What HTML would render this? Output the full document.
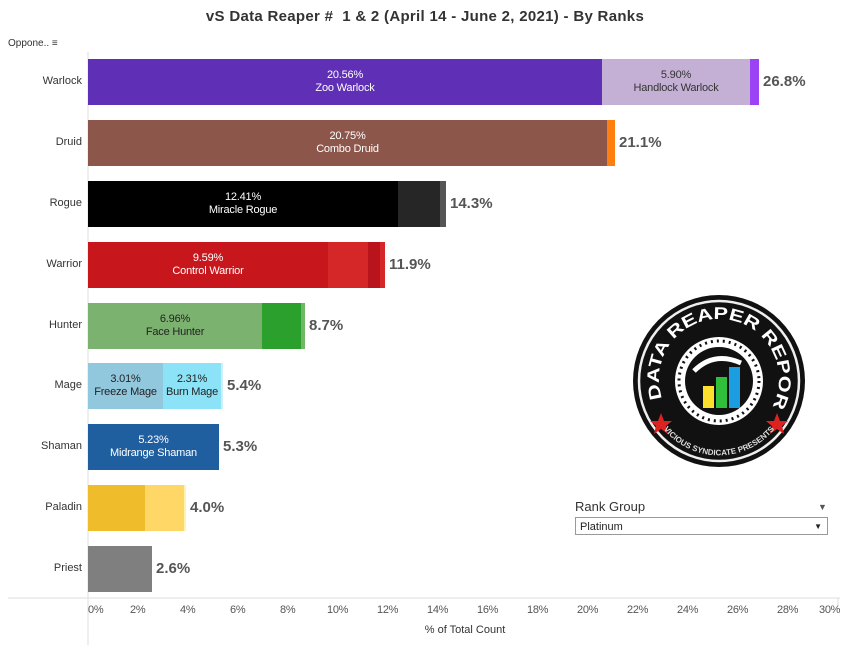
<!DOCTYPE html>
<html><head><style>
body{margin:0;width:850px;height:645px;background:#fff;font-family:"Liberation Sans",Arial,sans-serif;position:relative;overflow:hidden}
.a{position:absolute}
.t{left:0;width:850px;top:8px;text-align:center;font-size:15px;font-weight:bold;color:#333;letter-spacing:.3px}
.lbl{left:0;width:82px;text-align:right;font-size:11px;color:#333}
.bar{position:absolute;height:46px}
.in{color:#fff;font-size:11px;text-align:center;line-height:13px;display:flex;align-items:center;justify-content:center;flex-direction:column;letter-spacing:-.2px}
.tot{font-size:15px;font-weight:bold;color:#555}
.tk{font-size:11px;color:#555;top:604px;letter-spacing:-.3px}
</style></head><body>
<div class="a t">vS Data Reaper #&nbsp; 1 &amp; 2 (April 14 - June 2, 2021) - By Ranks</div>
<div class="a" style="left:8px;top:38px;font-size:10px;color:#333">Oppone.. <span style="font-weight:bold">&#8801;</span></div>
<svg class="a" style="left:0;top:0" width="850" height="645">
<line x1="88" y1="52" x2="88" y2="645" stroke="#ddd"/>
<line x1="8" y1="598" x2="840" y2="598" stroke="#ddd"/>
<line x1="838" y1="598" x2="838" y2="606" stroke="#ddd"/>
<rect x="88" y="59" width="514" height="46" fill="#5f2fb5"/>
<rect x="602" y="59" width="148" height="46" fill="#c5b0d5"/>
<rect x="750" y="59" width="9" height="46" fill="#9c42f5"/>
<rect x="88" y="120" width="519" height="46" fill="#8c564b"/>
<rect x="607" y="120" width="8" height="46" fill="#ff7f0e"/>
<rect x="88" y="181" width="310" height="46" fill="#000"/>
<rect x="398" y="181" width="42" height="46" fill="#262626"/>
<rect x="440" y="181" width="6" height="46" fill="#555"/>
<rect x="88" y="242" width="240" height="46" fill="#c8161d"/>
<rect x="328" y="242" width="40" height="46" fill="#d62728"/>
<rect x="368" y="242" width="12" height="46" fill="#b9131b"/>
<rect x="380" y="242" width="5" height="46" fill="#d62728"/>
<rect x="88" y="303" width="174" height="46" fill="#7cb26f"/>
<rect x="262" y="303" width="39" height="46" fill="#2ca02c"/>
<rect x="301" y="303" width="4" height="46" fill="#6fb865"/>
<rect x="88" y="363" width="75" height="46" fill="#92c8de"/>
<rect x="163" y="363" width="58" height="46" fill="#8ce2f6"/>
<rect x="221" y="363" width="2" height="46" fill="#d0eef7"/>
<rect x="88" y="424" width="131" height="46" fill="#1f5fa0"/>
<rect x="88" y="485" width="57" height="46" fill="#efbd2b"/>
<rect x="145" y="485" width="39" height="46" fill="#fed766"/>
<rect x="184" y="485" width="2" height="46" fill="#fff3b0"/>
<rect x="88" y="546" width="64" height="46" fill="#7f7f7f"/>
<g transform="translate(719,381)">
<circle r="86" fill="#111"/>
<circle r="80" fill="none" stroke="#eee" stroke-width="2.5"/>
<circle r="44" fill="#fff"/>
<circle r="40" fill="none" stroke="#111" stroke-width="3" stroke-dasharray="2 4"/>
<circle r="34" fill="#111"/>
<rect x="-16" y="5" width="11" height="22" fill="#fce02b"/>
<rect x="-3" y="-4" width="11" height="31" fill="#2fbf3a"/>
<rect x="10" y="-14" width="11" height="41" fill="#1b9de2"/>
<path d="M-25,-10 Q-5,-30 22,-18" stroke="#fff" stroke-width="5" fill="none"/>
<polygon points="-58,32 -55,40 -47,40 -53,45 -51,53 -58,48 -65,53 -63,45 -69,40 -61,40" fill="#d22"/>
<polygon points="58,32 61,40 69,40 63,45 65,53 58,48 51,53 53,45 47,40 55,40" fill="#d22"/>
<path id="arc" d="M-55,22 A60,60 0 1,1 55,22" fill="none"/>
<text font-family="Liberation Sans" font-weight="bold" font-size="17" fill="#fff"><textPath href="#arc" startOffset="2%" textLength="250" lengthAdjust="spacingAndGlyphs">DATA REAPER REPORT</textPath></text>
<path id="arc2" d="M-58,45 A72,72 0 0,0 58,45" fill="none"/>
<text font-family="Liberation Sans" font-weight="bold" font-size="8" fill="#ddd"><textPath href="#arc2" startOffset="50%" text-anchor="middle">VICIOUS SYNDICATE PRESENTS</textPath></text>
</g>
</svg>
<div class="a lbl" style="top:75px">Warlock</div>
<div class="a lbl" style="top:136px">Druid</div>
<div class="a lbl" style="top:197px">Rogue</div>
<div class="a lbl" style="top:258px">Warrior</div>
<div class="a lbl" style="top:319px">Hunter</div>
<div class="a lbl" style="top:379px">Mage</div>
<div class="a lbl" style="top:440px">Shaman</div>
<div class="a lbl" style="top:501px">Paladin</div>
<div class="a lbl" style="top:562px">Priest</div>

<div class="bar in" style="left:88px;top:59px;width:514px">20.56%<br>Zoo Warlock</div>
<div class="bar in" style="left:602px;top:59px;width:148px;color:#333">5.90%<br>Handlock Warlock</div>
<div class="bar in" style="left:88px;top:120px;width:519px">20.75%<br>Combo Druid</div>
<div class="bar in" style="left:88px;top:181px;width:310px">12.41%<br>Miracle Rogue</div>
<div class="bar in" style="left:88px;top:242px;width:240px">9.59%<br>Control Warrior</div>
<div class="bar in" style="left:88px;top:303px;width:174px;color:#222">6.96%<br>Face Hunter</div>
<div class="bar in" style="left:88px;top:363px;width:75px;color:#222">3.01%<br>Freeze Mage</div>
<div class="bar in" style="left:163px;top:363px;width:58px;color:#222">2.31%<br>Burn Mage</div>
<div class="bar in" style="left:88px;top:424px;width:131px">5.23%<br>Midrange Shaman</div>

<div class="a tot" style="left:763px;top:73px">26.8%</div>
<div class="a tot" style="left:619px;top:134px">21.1%</div>
<div class="a tot" style="left:450px;top:195px">14.3%</div>
<div class="a tot" style="left:389px;top:256px">11.9%</div>
<div class="a tot" style="left:309px;top:317px">8.7%</div>
<div class="a tot" style="left:227px;top:377px">5.4%</div>
<div class="a tot" style="left:223px;top:438px">5.3%</div>
<div class="a tot" style="left:190px;top:499px">4.0%</div>
<div class="a tot" style="left:156px;top:560px">2.6%</div>

<div class="a tk" style="left:88px">0%</div>
<div class="a tk" style="left:130px">2%</div>
<div class="a tk" style="left:180px">4%</div>
<div class="a tk" style="left:230px">6%</div>
<div class="a tk" style="left:280px">8%</div>
<div class="a tk" style="left:327px">10%</div>
<div class="a tk" style="left:377px">12%</div>
<div class="a tk" style="left:427px">14%</div>
<div class="a tk" style="left:477px">16%</div>
<div class="a tk" style="left:527px">18%</div>
<div class="a tk" style="left:577px">20%</div>
<div class="a tk" style="left:627px">22%</div>
<div class="a tk" style="left:677px">24%</div>
<div class="a tk" style="left:727px">26%</div>
<div class="a tk" style="left:777px">28%</div>
<div class="a tk" style="left:819px">30%</div>
<div class="a" style="left:0;width:930px;text-align:center;top:624px;font-size:11px;color:#333">% of Total Count</div>

<div class="a" style="left:575px;top:499px;font-size:13px;color:#333">Rank Group</div>
<div class="a" style="left:818px;top:502px;font-size:9px;color:#555">&#9660;</div>
<div class="a" style="left:575px;top:517px;width:253px;height:18px;border:1px solid #999;font-size:11px;color:#222;line-height:18px;box-sizing:border-box;padding-left:4px">Platinum<span style="position:absolute;right:5px;font-size:8px">&#9660;</span></div>
</body></html>
